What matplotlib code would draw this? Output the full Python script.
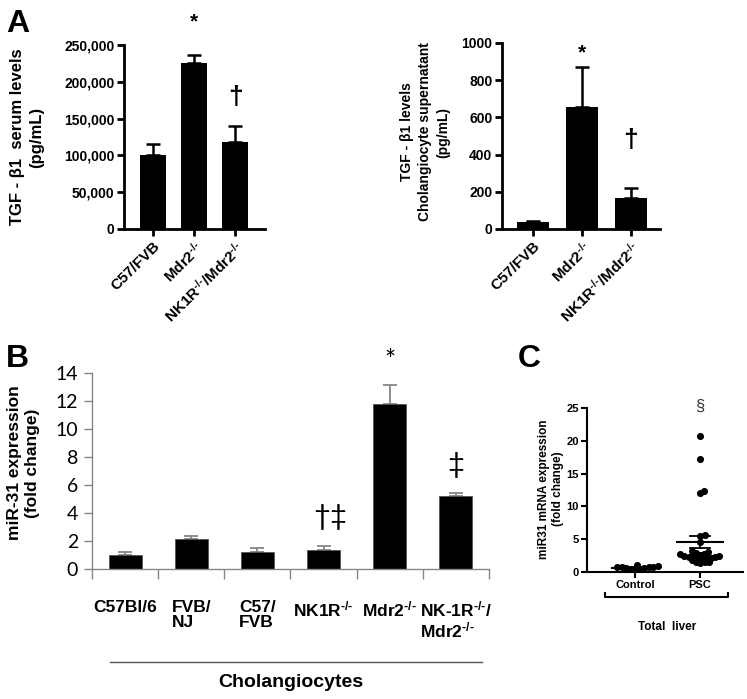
import matplotlib
matplotlib.use('Agg')
import matplotlib.pyplot as plt
import matplotlib.transforms as mtransforms
import numpy as np

plt.rcParams['font.family'] = ['Liberation Sans', 'DejaVu Sans']
plt.rcParams['mathtext.fontset'] = 'custom'
plt.rcParams['mathtext.rm'] = 'Liberation Sans:bold'
plt.rcParams['mathtext.bf'] = 'Liberation Sans:bold'
plt.rcParams['mathtext.default'] = 'rm'

KO = '$^{\u2010/\u2010}$'

# ---- data ----
a_groups = ['C57/FVB', 'Mdr2' + KO, 'NK1R' + KO + '/Mdr2' + KO]
a_serum = [100000, 226000, 118000]
a_serum_err = [15000, 10000, 22000]
a_super = [40, 655, 165]
a_super_err = [5, 215, 53]

b_groups = ['C57Bl/6', 'FVB/\nNJ', 'C57/\nFVB', 'NK1R' + KO, 'Mdr2' + KO,
            'NK-1R' + KO + '/\nMdr2' + KO]
b_mir31 = [0.98, 2.15, 1.2, 1.38, 11.8, 5.24]
b_mir31_err = [0.22, 0.18, 0.28, 0.25, 1.35, 0.22]

c_groups = ['Control', 'PSC']
c_control = [0.5, 0.8, 1.0, 0.7, 0.6, 0.9, 0.5, 0.6, 0.8, 0.7, 0.4]
c_psc = [20.8, 17.3, 12.4, 12.0, 5.6, 5.5, 4.5, 3.2, 3.0, 2.8, 2.7, 2.5, 2.4, 2.4,
         2.3, 2.3, 2.2, 2.2, 2.1, 2.0, 1.8, 1.6, 1.5, 1.5, 1.4, 2.6, 2.9]

W, H = 747, 699
fig = plt.figure(figsize=(W / 100, H / 100), dpi=100)


def box(l, t, r, b):
    return [l / W, 1 - b / H, (r - l) / W, (b - t) / H]


def panel_a(ax, vals, errs, ymax, step, fmt, xlim, star_y, dag_y):
    x = np.arange(len(vals))
    ax.bar(x, vals, width=0.65, color='black', zorder=2)
    ax.errorbar(x, vals, yerr=[np.zeros(len(vals)), errs], fmt='none', ecolor='black',
                elinewidth=1.8, capsize=5, capthick=1.8, zorder=1)
    ax.set_xlim(*xlim)
    ax.set_ylim(0, ymax)
    ax.set_yticks(np.arange(0, ymax + 1, step))
    ax.set_yticklabels([fmt(v) for v in np.arange(0, ymax + 1, step)], fontsize=10)
    ax.set_xticks(x)
    ax.set_xticklabels(a_groups, rotation=45, ha='right', rotation_mode='anchor', fontsize=11)
    for s in ['top', 'right']:
        ax.spines[s].set_visible(False)
    for s in ['left', 'bottom']:
        ax.spines[s].set_linewidth(2)
    ax.tick_params(width=2, length=5, pad=2)
    for lab in ax.get_xticklabels() + ax.get_yticklabels():
        lab.set_fontweight('bold')
    ax.text(1, star_y, '*', ha='center', va='center', fontsize=15, fontweight='bold', clip_on=False)
    ax.text(2, dag_y, '\u2020', ha='center', va='center', fontsize=19, fontweight='bold', clip_on=False)


# ---- panel A left ----
ax1 = fig.add_axes(box(124, 45, 265, 229))
panel_a(ax1, a_serum, a_serum_err, 250000, 50000, lambda v: f'{int(v):,}',
        (-0.71, 2.73), 282000, 180000)
fig.text(27 / W, 1 - 137 / H, 'TGF - \u03b21  serum levels\n(pg/mL)', rotation=90,
         ha='center', va='center', fontsize=12, fontweight='bold', linespacing=1.3)

# ---- panel A right ----
ax2 = fig.add_axes(box(502, 43, 660, 229))
panel_a(ax2, a_super, a_super_err, 1000, 200, lambda v: f'{int(v)}',
        (-0.63, 2.59), 945, 480)
fig.text(425 / W, 1 - 132 / H, 'TGF - \u03b21 levels\nCholangiocyte supernatant\n(pg/mL)',
         rotation=90, ha='center', va='center', fontsize=10, fontweight='bold', linespacing=1.35)

fig.text(6 / W, 1 - 32 / H, 'A', fontsize=23, fontweight='bold', va='baseline')

# ---- panel B ----
grey = '#868686'
ax3 = fig.add_axes(box(92, 373, 489, 569))
xb = np.arange(len(b_mir31))
ax3.bar(xb, b_mir31, width=0.5, color='black', edgecolor='#555555', linewidth=0.6, zorder=2)
ax3.errorbar(xb, b_mir31, yerr=[np.zeros(len(xb)), b_mir31_err], fmt='none', ecolor=grey,
             elinewidth=1.3, capsize=5, capthick=1.3, zorder=1)
ax3.set_xlim(-0.5, len(xb) - 0.5)
ax3.set_ylim(0, 14)
ax3.set_yticks(np.arange(0, 15, 2))
ax3.set_xticks(xb)
ax3.set_xticklabels(b_groups, fontsize=12.5, fontweight='bold', va='top', multialignment='left',
                    linespacing=1.05)
ax3.set_xticks(np.arange(-0.5, len(xb)), minor=True)
ax3.tick_params(axis='x', which='major', length=0, pad=22)
ax3.tick_params(axis='x', which='minor', length=7, color=grey, width=1)
ax3.tick_params(axis='y', length=6, color=grey, width=1, pad=4)
for lab in ax3.get_yticklabels():
    lab.set_fontfamily(['Lato', 'DejaVu Sans'])
    lab.set_fontsize(14)
for s in ['top', 'right']:
    ax3.spines[s].set_visible(False)
for s in ['left', 'bottom']:
    ax3.spines[s].set_color(grey)
    ax3.spines[s].set_linewidth(1)
ax3.text(4, 14.8, '*', ha='center', va='center', fontsize=19, family=['Lato', 'DejaVu Sans'],
         clip_on=False)
ax3.text(3.1, 3.7, '\u2020\u2021', ha='center', va='center', fontsize=21,
         family=['Lato', 'DejaVu Sans'])
ax3.text(5, 7.4, '\u2021', ha='center', va='center', fontsize=21, family=['Lato', 'DejaVu Sans'])
trans3 = mtransforms.blended_transform_factory(ax3.transData, ax3.transAxes)
ax3.plot([-0.23, 5.39], [-0.474, -0.474], color='#555555', lw=1, transform=trans3, clip_on=False)
ax3.text(2.5, -0.58, 'Cholangiocytes', transform=trans3, ha='center', va='center',
         fontsize=14, fontweight='bold')
fig.text(24 / W, 1 - 463 / H, 'miR-31 expression\n(fold change)', rotation=90, ha='center',
         va='center', fontsize=12.5, fontweight='bold', linespacing=1.25)
fig.text(6 / W, 1 - 367 / H, 'B', fontsize=23, fontweight='bold', va='baseline')


# ---- panel C ----
def swarm(vals, center, xscale, yscale, d, step=0.5):
    vals = np.asarray(vals, dtype=float)
    placed = []
    xs = np.zeros(len(vals))
    offsets = [0.0]
    for k in range(1, 200):
        offsets += [k * step, -k * step]
    for i in np.argsort(vals):
        y = vals[i] * yscale
        for off in offsets:
            if all((off - px) ** 2 + (y - py) ** 2 >= d ** 2 for px, py in placed):
                break
        placed.append((off, y))
        xs[i] = center + off / xscale
    return xs


ax4 = fig.add_axes(box(587, 408, 743, 572))
ax4.set_xlim(-0.74, 1.66)
ax4.set_ylim(0, 25)
xscale, yscale = 65.0, 164 / 25
for i, vals in enumerate([c_control, c_psc]):
    xs = swarm(vals, i, xscale, yscale, 4.2)
    ax4.scatter(xs, vals, s=26, color='black', zorder=3, linewidths=0)
    m = np.mean(vals)
    sem = np.std(vals, ddof=1) / np.sqrt(len(vals))
    ax4.plot([i - 0.35, i + 0.35], [m, m], color='black', lw=1.5, zorder=4)
    ax4.plot([i - 0.15, i + 0.15], [m + sem, m + sem], color='black', lw=1.3, zorder=4)
    ax4.plot([i - 0.15, i + 0.15], [m - sem, m - sem], color='black', lw=1.3, zorder=4)
    ax4.plot([i, i], [m - sem, m + sem], color='black', lw=1.3, zorder=4)
ax4.set_xticks([0, 1])
ax4.set_xticklabels(c_groups, fontsize=8.5, fontweight='bold')
ax4.set_yticks(np.arange(0, 26, 5))
ax4.tick_params(width=1.5, length=4, labelsize=8, pad=2)
for lab in ax4.get_yticklabels():
    lab.set_fontweight('bold')
for s in ['top', 'right']:
    ax4.spines[s].set_visible(False)
for s in ['left', 'bottom']:
    ax4.spines[s].set_linewidth(1.5)
ax4.text(1, 25.3, '\u00a7', ha='center', va='center', fontsize=12, color='#333333', clip_on=False)
trans4 = mtransforms.blended_transform_factory(ax4.transData, ax4.transAxes)
ax4.plot([-0.46, -0.46, 1.43, 1.43], [-0.128, -0.152, -0.152, -0.128], color='black', lw=1.5,
         transform=trans4, clip_on=False)
ax4.text(0.5, -0.335, 'Total  liver', transform=trans4, ha='center', va='center',
         fontsize=8.5, fontweight='bold')
fig.text(551 / W, 1 - 489 / H, 'miR31 mRNA expression\n(fold change)', rotation=90,
         ha='center', va='center', fontsize=8.5, fontweight='bold', linespacing=1.2)
fig.text(518 / W, 1 - 367 / H, 'C', fontsize=23, fontweight='bold', va='baseline')

fig.savefig('out.png', dpi=100)
